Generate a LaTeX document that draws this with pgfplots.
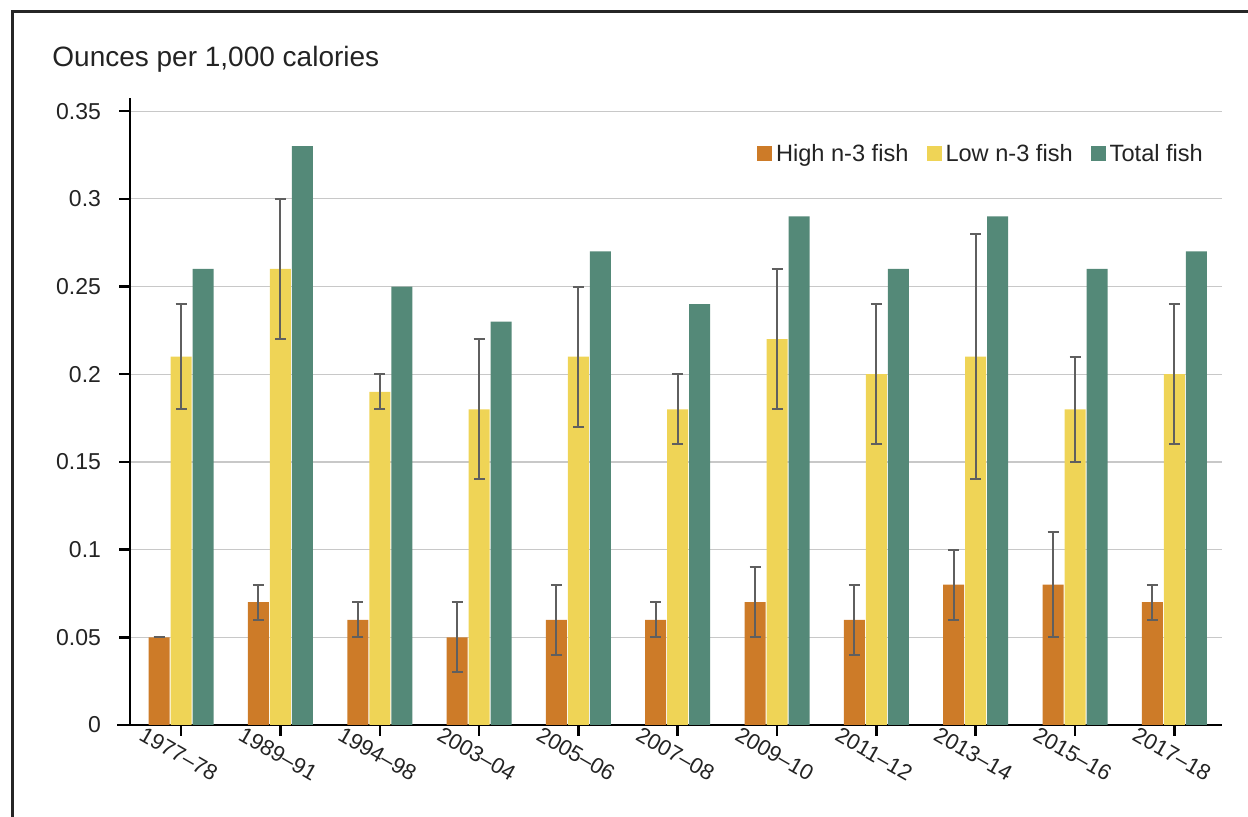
\documentclass[border=0pt]{standalone}
\usepackage{pgfplots}
\pgfplotsset{compat=1.18}
\usepackage{pgfplotstable}
\usepackage{fontspec}
\setmainfont{Liberation Sans}
\definecolor{cOrange}{RGB}{205,123,40}
\definecolor{cYellow}{RGB}{239,212,86}
\definecolor{cGreen}{RGB}{84,137,120}
\definecolor{cErr}{RGB}{95,95,95}
\definecolor{cGrid}{RGB}{200,200,200}
\definecolor{cText}{RGB}{35,35,35}

\pgfplotstableread{
x y ep em
0 0.05 0 0
1 0.07 0.01 0.01
2 0.06 0.01 0.01
3 0.05 0.02 0.02
4 0.06 0.02 0.02
5 0.06 0.01 0.01
6 0.07 0.02 0.02
7 0.06 0.02 0.02
8 0.08 0.02 0.02
9 0.08 0.03 0.03
10 0.07 0.01 0.01
}\high

\pgfplotstableread{
x y ep em
0 0.21 0.03 0.03
1 0.26 0.04 0.04
2 0.19 0.01 0.01
3 0.18 0.04 0.04
4 0.21 0.04 0.04
5 0.18 0.02 0.02
6 0.22 0.04 0.04
7 0.20 0.04 0.04
8 0.21 0.07 0.07
9 0.18 0.03 0.03
10 0.20 0.04 0.04
}\low

\pgfplotstableread{
x y
0 0.26
1 0.33
2 0.25
3 0.23
4 0.27
5 0.24
6 0.29
7 0.26
8 0.29
9 0.26
10 0.27
}\total

\begin{document}
\begin{tikzpicture}
\path[use as bounding box] (0pt,0pt) rectangle (624pt,408.5pt);
\draw[line width=1.5pt, color=black!85] (6pt,-3pt) -- (6pt,402.5pt) -- (630pt,402.5pt);
\node[anchor=base west, font=\fontsize{14}{16}\selectfont, text=cText, inner sep=0pt] at (26pt,375pt) {Ounces per 1,000 calories};
\begin{axis}[
  at={(65pt,46pt)}, anchor=south west,
  scale only axis, width=546pt, height=313.5pt,
  xmin=-0.515, xmax=10.48, ymin=0, ymax=0.3575,
  ybar=0.5pt, bar width=10.5pt,
  axis x line=bottom, axis y line=left,
  axis line style={-, line width=1.25pt, black},
  x axis line style={shorten <=-6.5pt},
  tick align=outside, major tick length=5.5pt,
  tick style={black, line width=1.25pt},
  xtick={0,...,10},
  xticklabels={1977--78,1989--91,1994--98,2003--04,2005--06,2007--08,2009--10,2011--12,2013--14,2015--16,2017--18},
  ytick={0,0.05,...,0.36},
  scaled y ticks=false,
  yticklabel style={/pgf/number format/fixed, /pgf/number format/precision=2, xshift=-5.5pt},
  /pgf/number format/assume math mode=true,
  ticklabel style={font=\fontsize{11.5}{13}\selectfont, text=cText},
  xticklabel style={font=\fontsize{11}{13}\selectfont, rotate=-30, anchor=north, xshift=3.5pt, yshift=-1pt},
  ymajorgrids, grid style={cGrid, line width=0.6pt},
  legend style={at={(0.992,0.94)}, anchor=north east, draw=none, fill=none,
    legend columns=-1, font=\fontsize{11.8}{14}\selectfont, text=cText,
    /tikz/every even column/.append style={column sep=7pt},
    /tikz/every odd column/.append style={column sep=0pt}},
  legend cell align=left,
  error bars/error bar style={cErr, line width=1pt},
  error bars/error mark options={cErr, rotate=90, mark size=2.75pt, line width=1pt},
]
\addplot[fill=cOrange, draw=none, legend image code/.code={\fill[cOrange] (0pt,-3.5pt) rectangle (7.5pt,4pt);},
  error bars/.cd, y dir=both, y explicit] table[x=x,y=y,y error plus=ep,y error minus=em]{\high};
\addlegendentry{High n-3 fish}
\addplot[fill=cYellow, draw=none, legend image code/.code={\fill[cYellow] (0pt,-3.5pt) rectangle (7.5pt,4pt);},
  error bars/.cd, y dir=both, y explicit] table[x=x,y=y,y error plus=ep,y error minus=em]{\low};
\addlegendentry{Low n-3 fish}
\addplot[fill=cGreen, draw=none, legend image code/.code={\fill[cGreen] (0pt,-3.5pt) rectangle (7.5pt,4pt);}] table[x=x,y=y]{\total};
\addlegendentry{Total fish}
\end{axis}
\end{tikzpicture}
\end{document}
